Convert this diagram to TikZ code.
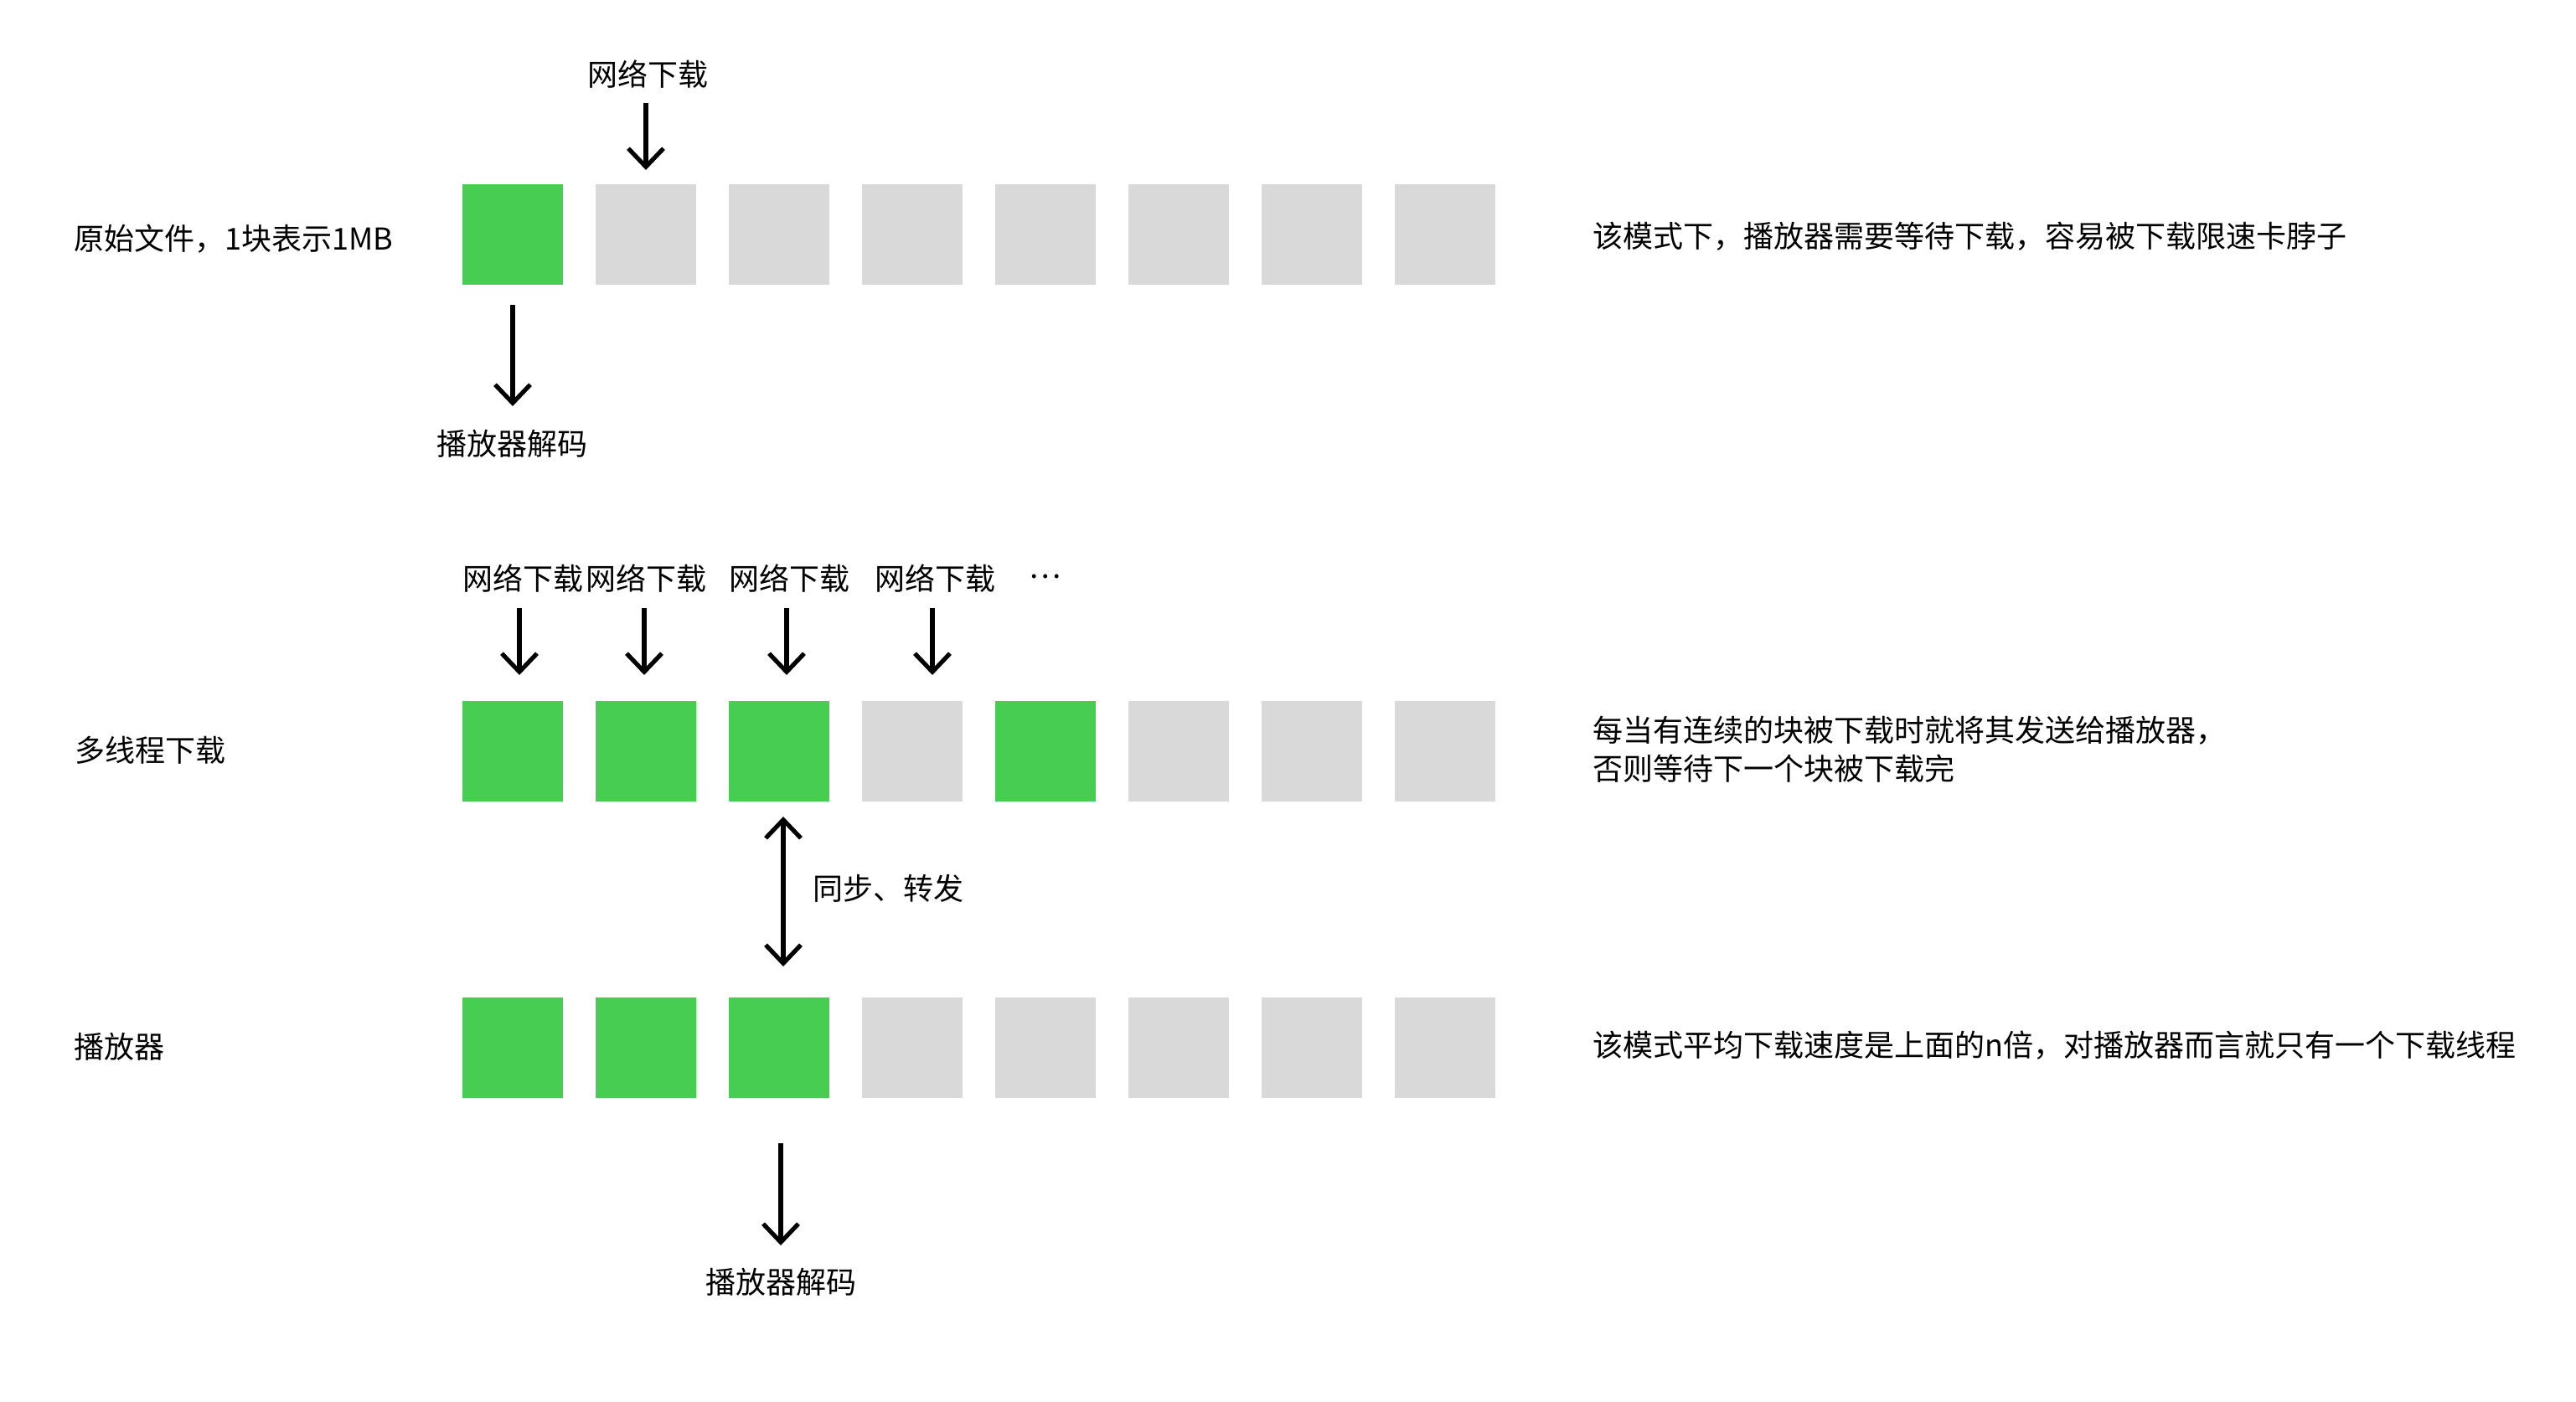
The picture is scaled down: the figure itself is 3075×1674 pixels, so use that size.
\documentclass[tikz,border=0pt]{standalone}
\usepackage{fontspec}
\setmainfont{Noto Sans CJK SC}
\usetikzlibrary{arrows.meta}
\definecolor{blkgreen}{RGB}{71,205,82}
\definecolor{blkgrey}{RGB}{217,217,217}
\begin{document}
\begin{tikzpicture}[x=0.5pt,y=-0.5pt,
  blk/.style={minimum width=60pt,minimum height=60pt,inner sep=0pt,outer sep=0pt,anchor=north west},
  gbox/.style={blk,fill=blkgreen},
  ebox/.style={blk,fill=blkgrey},
  txt/.style={inner sep=0pt,font=\fontsize{18}{23}\selectfont},
  ltxt/.style={txt,anchor=west,align=left},
  arr/.style={line width=2.6pt,-{Straight Barb[length=11pt,width=21pt]}},
  darr/.style={line width=2.6pt,{Straight Barb[length=11pt,width=21pt]}-{Straight Barb[length=11pt,width=21pt]}}
]
\useasboundingbox[fill=white] (0,0) rectangle (3075,1674);

% Row 1
\node[gbox] (a1) at (552,220) {};
\node[ebox] (a2) at (711,220) {};
\node[ebox] (a3) at (870,220) {};
\node[ebox] (a4) at (1029,220) {};
\node[ebox] (a5) at (1188,220) {};
\node[ebox] (a6) at (1347,220) {};
\node[ebox] (a7) at (1506,220) {};
\node[ebox] (a8) at (1665,220) {};

% Row 2
\node[gbox] (b1) at (552,837) {};
\node[gbox] (b2) at (711,837) {};
\node[gbox] (b3) at (870,837) {};
\node[ebox] (b4) at (1029,837) {};
\node[gbox] (b5) at (1188,837) {};
\node[ebox] (b6) at (1347,837) {};
\node[ebox] (b7) at (1506,837) {};
\node[ebox] (b8) at (1665,837) {};

% Row 3
\node[gbox] (c1) at (552,1191) {};
\node[gbox] (c2) at (711,1191) {};
\node[gbox] (c3) at (870,1191) {};
\node[ebox] (c4) at (1029,1191) {};
\node[ebox] (c5) at (1188,1191) {};
\node[ebox] (c6) at (1347,1191) {};
\node[ebox] (c7) at (1506,1191) {};
\node[ebox] (c8) at (1665,1191) {};

% Left labels
\node[ltxt] (t1) at (88,285) {原始文件，1块表示1MB};
\node[ltxt] (t2) at (89,896) {多线程下载};
\node[ltxt] (t3) at (88,1250) {播放器};

% Right labels
\node[ltxt] (r1) at (1901,282) {该模式下，播放器需要等待下载，容易被下载限速卡脖子};
\node[ltxt] (r2) at (1901,895) {每当有连续的块被下载时就将其发送给播放器，\\否则等待下一个块被下载完};
\node[ltxt] (r3) at (1901,1248) {该模式平均下载速度是上面的n倍，对播放器而言就只有一个下载线程};

% Row 1 connectors
\node[txt] (n0) at (773,89) {网络下载};
\coordinate (n0s) at (771,123);
\coordinate (n0e) at (771,203);
\draw[arr] (n0s) -- (n0e);
\node[txt] (d1) at (611,530) {播放器解码};
\coordinate (a1s) at (612,364);
\coordinate (d1n) at (612,485);
\draw[arr] (a1s) -- (d1n);

% Row 2 download labels
\node[txt] (m1) at (624,691) {网络下载};
\node[txt] (m2) at (771,691) {网络下载};
\node[txt] (m3) at (942,691) {网络下载};
\node[txt] (m4) at (1116,691) {网络下载};
\node[txt] (m5) at (1248,691) {\raisebox{3pt}{…}};
\coordinate (m1s) at (620,726);
\coordinate (m2s) at (769,726);
\coordinate (m3s) at (939,726);
\coordinate (m4s) at (1113,726);
\coordinate (m1e) at (620,806);
\coordinate (m2e) at (769,806);
\coordinate (m3e) at (939,806);
\coordinate (m4e) at (1113,806);
\draw[arr] (m1s) -- (m1e);
\draw[arr] (m2s) -- (m2e);
\draw[arr] (m3s) -- (m3e);
\draw[arr] (m4s) -- (m4e);

% sync arrow
\coordinate (sy1) at (935,975);
\coordinate (sy2) at (935,1154);
\draw[darr] (sy1) -- (sy2);
\node[ltxt] (sy) at (970,1061) {同步、转发};

% bottom decode
\coordinate (c3s) at (932,1365);
\coordinate (d2n) at (932,1487);
\draw[arr] (c3s) -- (d2n);
\node[txt] (d2) at (932,1531) {播放器解码};
\end{tikzpicture}
\end{document}
